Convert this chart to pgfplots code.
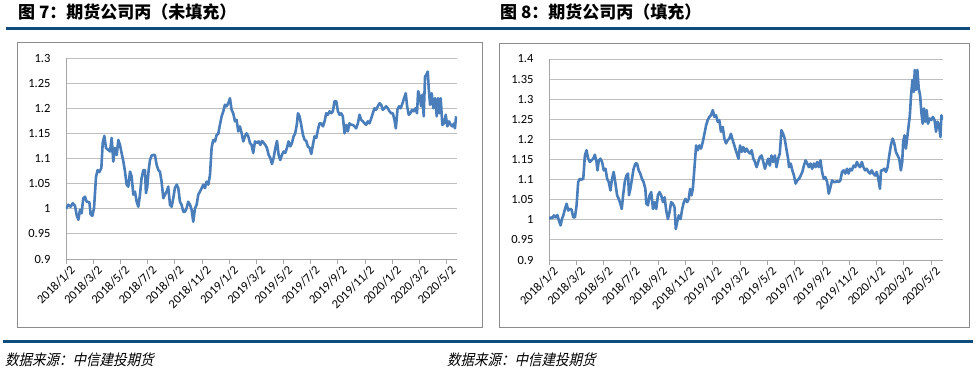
\documentclass[border=0pt]{standalone}
\usepackage{fontspec}
\setmainfont{Carlito}
\newfontfamily\cjk{Noto Sans CJK SC}
\newfontfamily\cjkslant{Noto Sans CJK SC}[FakeSlant=0.22,FakeStretch=0.9]
\usepackage{pgfplots}
\pgfplotsset{compat=1.18}
\definecolor{rulec}{HTML}{0F4C7C}
\definecolor{linec}{HTML}{4A7EBB}
\definecolor{gridc}{HTML}{BFBFBF}
\definecolor{axisc}{HTML}{A6A6A6}
\definecolor{boxc}{HTML}{8C8C8C}
\pgfplotsset{
  mystyle/.style={
    anchor=south west, scale only axis,
    axis x line*=bottom, axis y line*=left,
    axis line style={draw=axisc, line width=0.9pt},
    ymajorgrids, grid style={draw=gridc, line width=0.9pt},
    y tick style={draw=none},
    x tick style={draw=axisc, line width=0.9pt},
    major tick length=5pt, tick align=outside,
    xtick={0,2,4,6,8,10,12,14,16,18,20,22,24,26,28},
    xticklabels={2018/1/2,2018/3/2,2018/5/2,2018/7/2,2018/9/2,2018/11/2,2019/1/2,2019/3/2,2019/5/2,2019/7/2,2019/9/2,2019/11/2,2020/1/2,2020/3/2,2020/5/2},
    ticklabel style={font=\fontsize{12.5}{14}\selectfont, color=black},
    xticklabel style={rotate=45, anchor=north east, inner sep=1pt, xshift=3pt, yshift=-2pt},
    yticklabel style={xshift=-7pt},
    /pgf/number format/assume math mode=true,
  }
}
\begin{document}
\begin{tikzpicture}[x=1pt,y=1pt]
\path[use as bounding box] (0,0) rectangle (976,373);
% titles
\node[anchor=base west, inner sep=0pt, font=\cjk\bfseries\fontsize{17}{20}\selectfont] at (18,354) {图 7：期货公司丙（未填充）};
\node[anchor=base west, inner sep=0pt, font=\cjk\bfseries\fontsize{17}{20}\selectfont] at (500,354) {图 8：期货公司丙（填充）};
\draw[rulec, line width=3pt] (6,344.5) -- (970,344.5);
\draw[rulec, line width=3pt] (3,31.5) -- (973,31.5);
\node[anchor=base west, inner sep=0pt, font=\cjkslant\fontsize{15}{18}\selectfont] at (5,8) {数据来源：中信建投期货};
\node[anchor=base west, inner sep=0pt, font=\cjkslant\fontsize{15}{18}\selectfont] at (447,8) {数据来源：中信建投期货};
% boxes
\draw[boxc, line width=1pt] (17,46) rectangle (482,330);
\draw[boxc, line width=1pt] (499,46) rectangle (969,329);

\begin{axis}[mystyle, at={(66pt,114pt)}, width=391pt, height=201pt,
  xmin=0, xmax=28.76, ymin=0.9, ymax=1.3,
  ytick={0.9,0.95,1,1.05,1.1,1.15,1.2,1.25,1.3},
  yticklabels={0.9,0.95,1,1.05,1.1,1.15,1.2,1.25,1.3}]
\addplot[linec, line width=2.6pt, line join=round] coordinates {
(0.00,1.000)(0.17,1.008)(0.34,1.004)(0.49,1.011)(0.66,1.006)(0.78,0.988)(0.91,0.978)(1.03,0.998)(1.15,0.991)(1.27,1.021)
(1.40,1.024)(1.52,1.014)(1.72,1.013)(1.81,0.989)(1.94,0.986)(2.06,1.001)(2.21,1.064)(2.33,1.077)(2.45,1.073)(2.60,1.081)
(2.70,1.131)(2.82,1.145)(2.94,1.121)(3.11,1.117)(3.24,1.114)(3.36,1.141)(3.48,1.094)(3.60,1.121)(3.73,1.107)(3.85,1.137)
(3.97,1.127)(4.09,1.111)(4.22,1.094)(4.34,1.074)(4.46,1.048)(4.58,1.044)(4.71,1.074)(4.83,1.064)(4.95,1.028)(5.07,1.034)
(5.20,1.014)(5.32,1.004)(5.44,1.028)(5.56,1.061)(5.69,1.077)(5.81,1.077)(5.88,1.031)(5.98,1.044)(6.08,1.077)(6.18,1.097)
(6.30,1.106)(6.42,1.107)(6.54,1.107)(6.67,1.087)(6.79,1.077)(6.91,1.074)(7.03,1.054)(7.16,1.021)(7.28,1.028)(7.40,1.034)
(7.52,1.044)(7.65,1.008)(7.77,1.004)(7.89,1.021)(8.01,1.041)(8.14,1.048)(8.26,1.041)(8.38,1.014)(8.50,1.008)(8.63,0.994)
(8.75,0.994)(8.87,1.001)(8.99,1.014)(9.12,1.008)(9.24,0.998)(9.36,0.974)(9.49,1.001)(9.61,1.008)(9.73,1.028)(9.85,1.034)
(9.98,1.041)(10.10,1.048)(10.22,1.041)(10.34,1.054)(10.47,1.048)(10.59,1.067)(10.71,1.121)(10.83,1.137)(10.96,1.134)(11.08,1.147)
(11.20,1.149)(11.32,1.167)(11.45,1.184)(11.57,1.194)(11.69,1.207)(11.81,1.204)(11.94,1.210)(12.06,1.220)(12.18,1.197)(12.30,1.190)
(12.43,1.174)(12.55,1.177)(12.67,1.154)(12.79,1.164)(12.92,1.150)(13.04,1.134)(13.16,1.144)(13.28,1.150)(13.41,1.144)(13.53,1.131)
(13.65,1.127)(13.77,1.111)(13.90,1.134)(14.05,1.131)(14.17,1.134)(14.29,1.127)(14.42,1.135)(14.54,1.131)(14.66,1.127)(14.78,1.121)
(14.91,1.107)(15.03,1.101)(15.15,1.089)(15.27,1.101)(15.40,1.121)(15.52,1.135)(15.64,1.107)(15.76,1.097)(15.88,1.107)(16.01,1.114)
(16.13,1.111)(16.25,1.121)(16.37,1.134)(16.50,1.124)(16.62,1.131)(16.74,1.144)(16.86,1.150)(16.99,1.170)(17.06,1.190)(17.18,1.184)
(17.30,1.167)(17.43,1.147)(17.55,1.137)(17.67,1.135)(17.79,1.124)(17.92,1.121)(18.04,1.109)(18.16,1.127)(18.28,1.144)(18.41,1.141)
(18.53,1.157)(18.65,1.170)(18.77,1.170)(18.90,1.164)(19.02,1.174)(19.14,1.190)(19.26,1.187)(19.39,1.194)(19.51,1.190)(19.63,1.194)
(19.75,1.214)(19.88,1.214)(20.00,1.194)(20.12,1.187)(20.24,1.190)(20.36,1.184)(20.49,1.150)(20.61,1.167)(20.73,1.154)(20.85,1.170)
(20.98,1.167)(21.10,1.167)(21.22,1.164)(21.34,1.160)(21.47,1.170)(21.59,1.187)(21.71,1.177)(21.83,1.174)(21.96,1.170)(22.08,1.167)
(22.20,1.174)(22.32,1.170)(22.45,1.180)(22.57,1.190)(22.69,1.200)(22.81,1.197)(22.94,1.204)(23.06,1.210)(23.18,1.207)(23.30,1.197)
(23.43,1.200)(23.55,1.204)(23.67,1.200)(23.79,1.194)(23.92,1.190)(24.04,1.190)(24.16,1.177)(24.26,1.160)(24.38,1.197)(24.50,1.204)
(24.62,1.200)(24.75,1.210)(24.87,1.220)(24.99,1.230)(25.09,1.204)(25.21,1.187)(25.33,1.190)(25.46,1.197)(25.58,1.194)(25.70,1.200)
(25.82,1.190)(25.90,1.234)(26.02,1.224)(26.12,1.204)(26.22,1.227)(26.31,1.184)(26.41,1.263)(26.51,1.267)(26.61,1.273)(26.68,1.240)
(26.78,1.207)(26.90,1.230)(27.02,1.200)(27.15,1.220)(27.27,1.184)(27.37,1.220)(27.46,1.190)(27.56,1.220)(27.68,1.167)(27.81,1.170)
(27.93,1.187)(28.05,1.164)(28.17,1.174)(28.30,1.167)(28.42,1.164)(28.54,1.170)(28.61,1.160)(28.69,1.184)
};
\end{axis}

\begin{axis}[mystyle, at={(549pt,113pt)}, width=394pt, height=201pt,
  xmin=0, xmax=28.87, ymin=0.9, ymax=1.4,
  ytick={0.9,0.95,1,1.05,1.1,1.15,1.2,1.25,1.3,1.35,1.4},
  yticklabels={0.9,0.95,1,1.05,1.1,1.15,1.2,1.25,1.3,1.35,1.4}]
\addplot[linec, line width=2.6pt, line join=round] coordinates {
(0.00,1.002)(0.12,1.006)(0.24,1.004)(0.36,1.011)(0.49,1.006)(0.61,1.012)(0.73,0.998)(0.85,0.986)(0.95,1.002)(1.05,1.011)
(1.17,1.027)(1.29,1.040)(1.41,1.023)(1.53,1.027)(1.65,1.026)(1.78,1.006)(1.90,1.006)(2.02,1.036)(2.14,1.094)(2.26,1.102)
(2.38,1.100)(2.51,1.102)(2.63,1.160)(2.75,1.173)(2.87,1.152)(2.99,1.144)(3.11,1.148)(3.24,1.152)(3.36,1.162)(3.48,1.144)
(3.55,1.123)(3.65,1.148)(3.77,1.152)(3.89,1.144)(4.01,1.123)(4.14,1.127)(4.26,1.102)(4.38,1.094)(4.50,1.073)(4.62,1.102)
(4.74,1.119)(4.87,1.090)(4.99,1.061)(5.11,1.052)(5.23,1.040)(5.33,1.027)(5.43,1.061)(5.55,1.094)(5.67,1.110)(5.79,1.115)
(5.86,1.061)(5.96,1.077)(6.08,1.102)(6.20,1.127)(6.33,1.140)(6.45,1.140)(6.57,1.123)(6.69,1.115)(6.81,1.102)(6.93,1.094)
(7.06,1.077)(7.13,1.040)(7.25,1.036)(7.37,1.061)(7.49,1.069)(7.62,1.027)(7.74,1.044)(7.86,1.027)(7.98,1.061)(8.10,1.069)
(8.22,1.061)(8.35,1.044)(8.47,1.056)(8.59,1.023)(8.71,1.002)(8.83,1.019)(8.95,1.044)(9.08,1.040)(9.20,1.031)(9.29,0.977)
(9.39,0.994)(9.51,1.011)(9.64,1.002)(9.76,1.027)(9.88,1.044)(10.00,1.052)(10.12,1.044)(10.24,1.052)(10.34,1.077)(10.44,1.061)
(10.54,1.077)(10.66,1.131)(10.78,1.185)(10.90,1.173)(11.02,1.185)(11.14,1.177)(11.27,1.194)(11.39,1.214)(11.51,1.235)(11.63,1.248)
(11.75,1.256)(11.87,1.260)(12.00,1.273)(12.12,1.256)(12.24,1.260)(12.36,1.244)(12.48,1.248)(12.60,1.219)(12.73,1.231)(12.85,1.202)
(12.97,1.190)(13.09,1.198)(13.21,1.202)(13.33,1.214)(13.46,1.198)(13.58,1.185)(13.76,1.165)(13.88,1.152)(14.00,1.185)(14.12,1.169)
(14.24,1.181)(14.36,1.169)(14.48,1.177)(14.61,1.169)(14.73,1.165)(14.85,1.173)(14.97,1.152)(15.09,1.144)(15.21,1.131)(15.33,1.144)
(15.45,1.156)(15.58,1.160)(15.70,1.144)(15.82,1.127)(15.94,1.140)(16.06,1.152)(16.18,1.135)(16.30,1.160)(16.42,1.144)(16.55,1.160)
(16.67,1.131)(16.79,1.152)(16.91,1.165)(17.03,1.223)(17.15,1.214)(17.27,1.202)(17.39,1.177)(17.52,1.152)(17.59,1.131)(17.71,1.140)
(17.83,1.123)(17.95,1.110)(18.07,1.090)(18.19,1.098)(18.32,1.102)(18.44,1.110)(18.56,1.119)(18.68,1.135)(18.80,1.148)(18.92,1.140)
(19.04,1.131)(19.16,1.140)(19.28,1.127)(19.41,1.140)(19.53,1.131)(19.65,1.144)(19.77,1.131)(19.89,1.148)(20.01,1.119)(20.13,1.102)
(20.25,1.106)(20.38,1.094)(20.50,1.065)(20.62,1.081)(20.74,1.098)(20.86,1.094)(20.98,1.094)(21.10,1.096)(21.22,1.094)(21.35,1.098)
(21.47,1.119)(21.59,1.123)(21.71,1.115)(21.83,1.127)(21.95,1.115)(22.07,1.127)(22.19,1.123)(22.32,1.135)(22.44,1.131)(22.56,1.144)
(22.68,1.135)(22.80,1.131)(22.92,1.144)(23.04,1.131)(23.16,1.123)(23.28,1.127)(23.41,1.119)(23.53,1.115)(23.65,1.123)(23.77,1.115)
(23.89,1.110)(24.01,1.119)(24.13,1.102)(24.25,1.077)(24.33,1.123)(24.45,1.123)(24.57,1.127)(24.69,1.119)(24.81,1.131)(24.93,1.160)
(25.05,1.185)(25.18,1.202)(25.30,1.190)(25.42,1.169)(25.54,1.160)(25.66,1.152)(25.78,1.123)(25.88,1.144)(25.95,1.194)(26.05,1.210)
(26.15,1.177)(26.24,1.202)(26.34,1.231)(26.44,1.260)(26.53,1.310)(26.63,1.348)(26.73,1.318)(26.80,1.373)(26.90,1.323)(26.99,1.373)
(27.09,1.327)(27.19,1.310)(27.28,1.269)(27.38,1.239)(27.48,1.277)(27.58,1.244)(27.67,1.273)(27.77,1.239)(27.89,1.252)(28.01,1.248)
(28.13,1.256)(28.25,1.248)(28.36,1.219)(28.46,1.244)(28.58,1.235)(28.68,1.206)(28.75,1.260)(28.85,1.248)
};
\end{axis}
\end{tikzpicture}
\end{document}
